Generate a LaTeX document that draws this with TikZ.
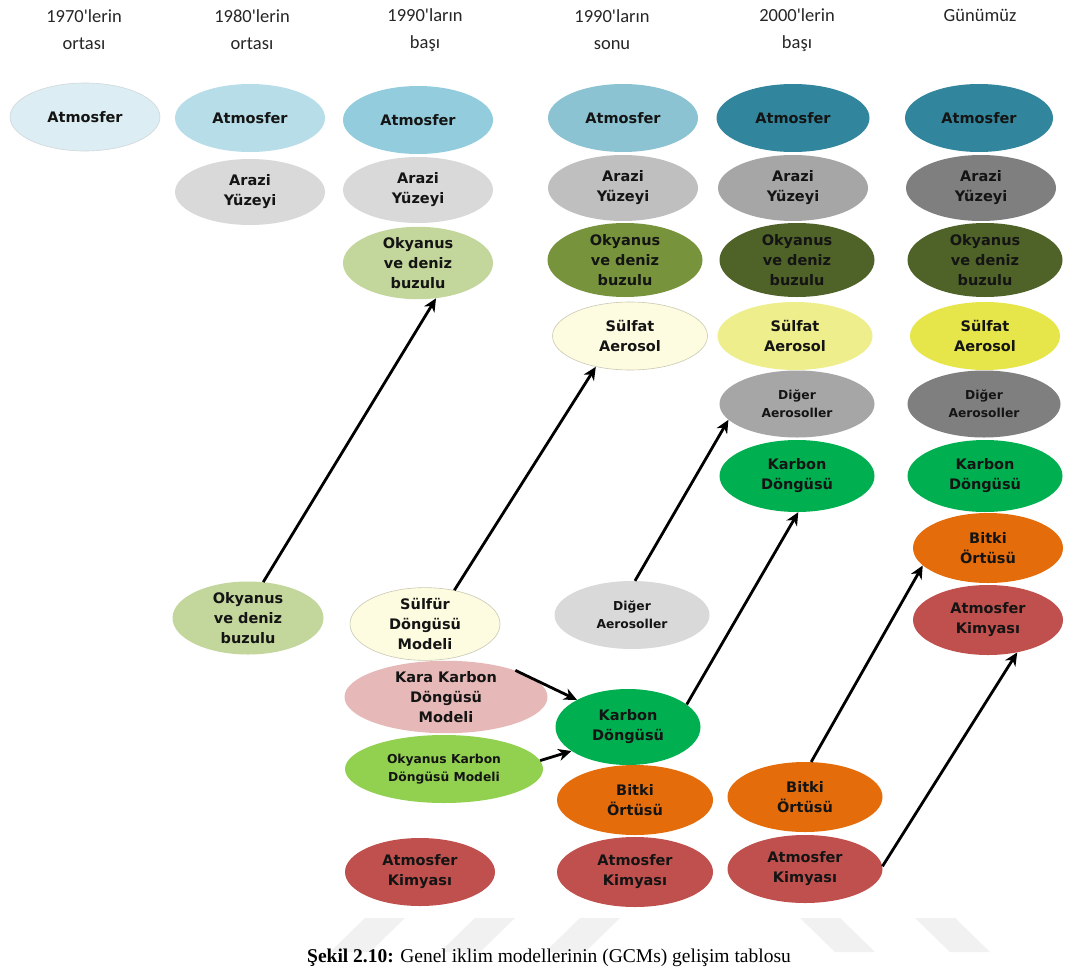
\documentclass[tikz,border=0pt]{standalone}
\usepackage{fontspec}
\setmainfont{Liberation Serif}
\newfontfamily\lblfont{DejaVu Sans}
\newfontfamily\hdrfont{Carlito}
\usetikzlibrary{shapes.geometric,arrows.meta}
\definecolor{atA}{HTML}{DCEDF3}
\definecolor{atB}{HTML}{B7DDE8}
\definecolor{atC}{HTML}{93CDDD}
\definecolor{atD}{HTML}{31859C}
\definecolor{grA}{HTML}{D9D9D9}
\definecolor{grB}{HTML}{BFBFBF}
\definecolor{grC}{HTML}{A6A6A6}
\definecolor{grD}{HTML}{7F7F7F}
\definecolor{okA}{HTML}{C3D69B}
\definecolor{okB}{HTML}{77933C}
\definecolor{okC}{HTML}{4F6228}
\definecolor{suA}{HTML}{FDFBE0}
\definecolor{suB}{HTML}{EEEE8C}
\definecolor{suC}{HTML}{E6E64A}
\definecolor{kbG}{HTML}{00B050}
\definecolor{okG}{HTML}{92D050}
\definecolor{pink}{HTML}{E6B9B8}
\definecolor{orng}{HTML}{E46C0A}
\definecolor{redd}{HTML}{C0504D}
\definecolor{wmark}{HTML}{F1F1F1}
\tikzset{
  ell/.style={ellipse, minimum width=150pt, minimum height=68pt, inner sep=0pt,
    align=center, text=black!92, font=\lblfont\bfseries\fontsize{14.5}{20}\selectfont},
  small/.style={font=\lblfont\bfseries\fontsize{12.3}{18}\selectfont},
  hdr/.style={align=center, text=black!85, font=\hdrfont\fontsize{18.5}{27}\selectfont},
  arr/.style={line width=2.8pt, -{Stealth[length=13pt,width=12pt,inset=4pt]}},
  wm/.style={fill=wmark, draw=none}
}
\begin{document}
\begin{tikzpicture}[x=1pt,y=-1pt]
\useasboundingbox (0,0) rectangle (1086,969);
\fill[white] (0,0) rectangle (1086,969);
% watermark
\fill[wm] (330,952) -- (365,918) -- (405,918) -- (370,952) -- cycle;
\fill[wm] (440,952) -- (475,918) -- (515,918) -- (480,952) -- cycle;
\fill[wm] (545,952) -- (580,918) -- (620,918) -- (585,952) -- cycle;
\fill[wm] (800,918) -- (840,918) -- (875,952) -- (835,952) -- cycle;
\fill[wm] (915,918) -- (955,918) -- (990,952) -- (950,952) -- cycle;
% headers
\node[hdr] (h1) at (84,30) {1970'lerin\\ortası};
\node[hdr] (h2) at (252,30) {1980'lerin\\ortası};
\node[hdr] (h3) at (425,30) {1990'ların\\başı};
\node[hdr] (h4) at (612,30) {1990'ların\\sonu};
\node[hdr] (h5) at (797,30) {2000'lerin\\başı};
\node[hdr, anchor=base] (h6) at (980,21) {Günümüz};
% column 1
\node[ell, fill=atA, draw=atA!80!black!60, line width=0.6pt] (a1) at (85,117) {Atmosfer};
% column 2
\node[ell, fill=atB] (a2) at (250,118) {Atmosfer};
\node[ell, fill=grA, minimum height=66pt] (ar2) at (250,192) {Arazi\\Yüzeyi};
\node[ell, fill=okA, minimum width=151pt, minimum height=73pt] (ok2) at (248,618) {Okyanus\\ve deniz\\buzulu};
% column 3
\node[ell, fill=atC] (a3) at (418,120) {Atmosfer};
\node[ell, fill=grA, minimum height=66pt] (ar3) at (418,190) {Arazi\\Yüzeyi};
\node[ell, fill=okA, minimum height=72pt] (ok3) at (418,263) {Okyanus\\ve deniz\\buzulu};
\node[ell, fill=suA, draw=suA!80!black, line width=0.6pt, minimum height=72pt] (sf3) at (425,624) {Sülfür\\Döngüsü\\Modeli};
\node[ell, fill=pink, minimum width=203pt, minimum height=69pt] (kk3) at (446,697) {Kara Karbon\\Döngüsü\\Modeli};
\node[ell, small, fill=okG, minimum width=198pt, minimum height=68pt] (okk3) at (444,769) {Okyanus Karbon\\Döngüsü Modeli};
\node[ell, fill=redd] (ak3) at (420,872) {Atmosfer\\Kimyası};
% column 4
\node[ell, fill=atC!95!black] (a4) at (623,118) {Atmosfer};
\node[ell, fill=grB, minimum height=66pt] (ar4) at (623,188) {Arazi\\Yüzeyi};
\node[ell, fill=okB, minimum width=155pt, minimum height=74pt] (ok4) at (625,260) {Okyanus\\ve deniz\\buzulu};
\node[ell, fill=suA, draw=suA!80!black, line width=0.6pt, minimum width=155pt] (su4) at (630,336) {Sülfat\\Aerosol};
\node[ell, small, fill=grA, minimum width=155pt] (da4) at (632,615) {Diğer\\Aerosoller};
\node[ell, fill=kbG, minimum width=145pt, minimum height=76pt] (kd4) at (628,727) {Karbon\\Döngüsü};
\node[ell, fill=orng, minimum width=156pt, minimum height=70pt] (bo4) at (635,800) {Bitki\\Örtüsü};
\node[ell, fill=redd, minimum width=156pt, minimum height=70pt] (ak4) at (635,872) {Atmosfer\\Kimyası};
% column 5
\node[ell, fill=atD, minimum width=153pt] (a5) at (793,118) {Atmosfer};
\node[ell, fill=grC, minimum height=66pt] (ar5) at (793,188) {Arazi\\Yüzeyi};
\node[ell, fill=okC, minimum width=155pt, minimum height=74pt] (ok5) at (797,260) {Okyanus\\ve deniz\\buzulu};
\node[ell, fill=suB, minimum width=155pt] (su5) at (795,336) {Sülfat\\Aerosol};
\node[ell, small, fill=grC, minimum width=155pt, minimum height=67pt] (da5) at (797,404) {Diğer\\Aerosoller};
\node[ell, fill=kbG, minimum width=155pt, minimum height=72pt] (kd5) at (797,476) {Karbon\\Döngüsü};
\node[ell, fill=orng, minimum width=155pt, minimum height=70pt] (bo5) at (805,797) {Bitki\\Örtüsü};
\node[ell, fill=redd, minimum width=155pt] (ak5) at (805,869) {Atmosfer\\Kimyası};
% column 6
\node[ell, fill=atD, minimum width=148pt] (a6) at (979,118) {Atmosfer};
\node[ell, fill=grD, minimum width=150pt, minimum height=66pt] (ar6) at (981,188) {Arazi\\Yüzeyi};
\node[ell, fill=okC, minimum width=155pt, minimum height=74pt] (ok6) at (985,260) {Okyanus\\ve deniz\\buzulu};
\node[ell, fill=suC] (su6) at (985,336) {Sülfat\\Aerosol};
\node[ell, small, fill=grD, minimum width=153pt, minimum height=67pt] (da6) at (984,404) {Diğer\\Aerosoller};
\node[ell, fill=kbG, minimum width=155pt, minimum height=72pt] (kd6) at (985,476) {Karbon\\Döngüsü};
\node[ell, fill=orng, minimum width=150pt, minimum height=70pt] (bo6) at (988,548) {Bitki\\Örtüsü};
\node[ell, fill=redd, minimum width=150pt, minimum height=70pt] (ak6) at (988,620) {Atmosfer\\Kimyası};
% arrows
\draw[arr] (ok2.67) -- (ok3.-63);
\draw[arr] (sf3.49) -- (su4.222);
\draw[arr] (da4.85) -- (da5.193);
\draw[arr] (kd4.21) -- (kd5.-88);
\draw[arr] (bo5.80) -- (bo6.195);
\draw[arr] (ak5.2) -- (ak6.-48);
\draw[arr] (kk3.21) -- (kd4.152);
\draw[arr] (okk3.5) -- (kd4.203);
% caption
\node[anchor=base, font=\fontsize{19.5}{21}\selectfont] (cap) at (549,962) {\textbf{Şekil 2.10:} Genel iklim modellerinin (GCMs) gelişim tablosu};
\end{tikzpicture}
\end{document}
